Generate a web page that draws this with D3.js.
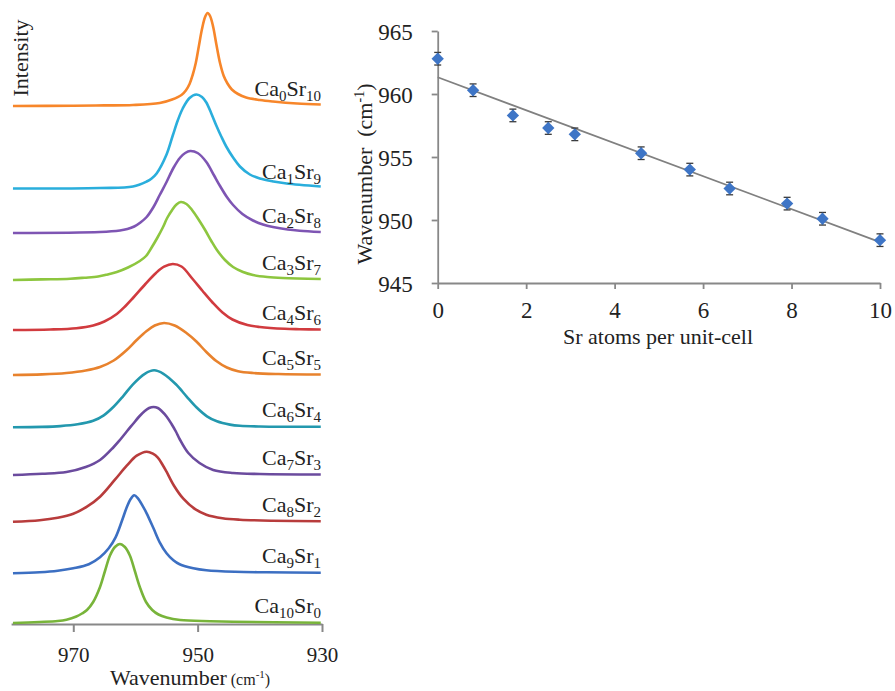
<!DOCTYPE html>
<html>
<head>
<meta charset="utf-8">
<script src="https://cdn.jsdelivr.net/npm/d3@7"></script>
<style>
  html, body { margin: 0; padding: 0; background: #fff; }
  svg { display: block; font-family: "Liberation Serif", "Times New Roman", serif; }
</style>
</head>
<body>
<svg id="chart" width="895" height="691"></svg>
<script>
// ---------------- DATA ----------------
// Left panel: Raman spectra (wavenumber in cm-1, relative intensity, arbitrary units)
const spectrumCa = [0, 1, 2, 3, 4, 5, 6, 7, 8, 9, 10];
const spectrumSr = [10, 9, 8, 7, 6, 5, 4, 3, 2, 1, 0];
const spectrumOffsets = [517, 434.5, 390, 343, 293, 248, 195.7, 148, 101.3, 49.7, 0];

const wn_Ca0Sr10  = [979.7, 970, 965, 960.4, 956.1, 954.1, 952.6, 951.9, 951.3, 950.8, 950.3, 949.8, 949.3, 948.8, 948.4, 948.0, 947.5, 947.0, 946.4, 945.8, 945.2, 944.5, 943.5, 942.2, 940, 937.9, 934, 930.2];
const int_Ca0Sr10 = [0, 0.3, 0.6, 1, 3, 6.5, 11, 15.5, 22, 31, 43, 60, 77, 89, 93, 90, 79, 62, 43, 30, 22.5, 16.5, 12, 8.5, 6, 4.5, 2.5, 1.5];

const wn_Ca1Sr9  = [979.7, 965.7, 960.4, 958.2, 957.4, 956.6, 955.0, 954.0, 953.2, 952.4, 951.3, 950.2, 949.3, 948.6, 947.8, 947.0, 946.2, 945.4, 944.3, 943.2, 941.6, 940.0, 937.8, 935.7, 930.2];
const int_Ca1Sr9 = [0, 0.5, 2, 7, 10, 15, 34, 53, 68, 80, 90.5, 94, 91.5, 86, 75, 63, 52, 42, 31, 22, 14, 10, 7, 5, 2];

const wn_Ca2Sr8  = [979.7, 965.7, 962.5, 961.3, 960.2, 959.2, 958.2, 957.1, 956.1, 955.0, 953.9, 952.8, 952.0, 951.2, 950.0, 948.6, 947.4, 946.4, 945.3, 944.3, 942.8, 941.1, 939.5, 937.9, 935.5, 933.6, 930.2];
const int_Ca2Sr8 = [0, 1, 2.5, 4, 6.5, 10.5, 16, 26, 38, 51, 65, 75.5, 80, 82, 80, 71, 58, 47, 36, 28, 19, 12.5, 8.5, 6, 3.5, 2.3, 1];

const wn_Ca3Sr7  = [979.7, 975.0, 970.5, 968.2, 966.0, 964.5, 963.0, 961.2, 959.3, 958.3, 957.4, 956.5, 955.6, 954.9, 954.1, 953.4, 952.7, 951.8, 950.9, 949.8, 948.8, 947.8, 946.9, 945.6, 944.3, 942.7, 941.1, 938.8, 936.3, 930.2];
const int_Ca3Sr7 = [0, 0.6, 1.3, 2.3, 3.5, 5.5, 8, 12.5, 19, 24, 32.5, 42, 52.5, 62, 70, 75.5, 78, 76, 70, 60, 50, 39, 30, 20, 13, 8, 5, 3, 2, 1];

const wn_Ca4Sr6  = [979.7, 973.7, 969.5, 966.8, 965.0, 963.0, 961.6, 960.4, 958.4, 956.7, 955.4, 954.0, 952.6, 950.8, 949.2, 947.6, 946.0, 944.4, 942.0, 940.0, 936.0, 933.6, 930.2];
const int_Ca4Sr6 = [0, 0.5, 1.8, 4.5, 8.5, 16, 24, 32, 46, 57, 63.3, 66, 63.5, 51, 39, 27.5, 17.5, 10.5, 5, 3, 1.2, 0.8, 0.5];

const wn_Ca5Sr5  = [979.7, 975.0, 971.1, 968.0, 965.7, 963.5, 961.4, 959.8, 958.2, 956.9, 955.4, 953.7, 951.8, 950.2, 948.6, 947.0, 945.3, 943.5, 941.1, 937.0, 930.2];
const int_Ca5Sr5 = [0, 0.6, 2, 4.5, 8, 14.5, 25, 35, 44, 49.5, 52, 49.5, 42, 33.5, 23, 14, 7.5, 3.8, 2, 1, 0.5];

const wn_Ca6Sr4  = [979.7, 975.0, 972.1, 969.3, 966.8, 965.1, 963.6, 962.0, 960.4, 958.5, 957.0, 955.5, 953.5, 951.8, 950.2, 948.5, 946.9, 944.8, 943.2, 940.0, 930.2];
const int_Ca6Sr4 = [0, 0.4, 1.2, 3, 6.5, 12, 20, 31, 43, 53.5, 57, 53.5, 43, 31, 20, 11, 6, 2.7, 1.5, 0.8, 0.5];

const wn_Ca7Sr3  = [979.7, 975.0, 971.1, 968.0, 965.7, 963.5, 962.5, 961.4, 960.4, 959.4, 958.5, 957.8, 957.1, 956.4, 955.8, 955.0, 954.2, 953.5, 952.9, 951.5, 949.7, 947.5, 944.3, 940.0, 930.2];
const int_Ca7Sr3 = [0, 1.2, 3, 8, 15, 28, 35, 43.5, 51, 58.5, 64, 67, 68, 67, 64, 58.5, 51, 43.5, 36, 22, 12, 5, 2, 1, 0.5];

const wn_Ca8Sr2  = [979.7, 975.4, 972.5, 970.0, 967.8, 965.7, 963.3, 961.4, 959.8, 958.2, 957.2, 956.4, 955.6, 955.0, 953.8, 952.3, 950.4, 948.6, 946.0, 943.2, 938.0, 930.2];
const int_Ca8Sr2 = [0, 1.5, 4, 8, 15, 25, 42, 56, 66, 70, 68, 64, 56.5, 50, 36, 23, 12.5, 7, 3.5, 2, 1, 0.5];

const wn_Ca9Sr1  = [979.7, 975.4, 972.5, 970.0, 967.5, 965.7, 964.3, 963.2, 962.2, 961.4, 960.8, 960.2, 959.6, 958.8, 958.2, 957.1, 956.1, 955.0, 953.9, 952.9, 950.7, 948.6, 944.0, 938.9, 930.2];
const int_Ca9Sr1 = [0, 1, 2.5, 5, 9, 16, 25, 36, 52, 66, 74, 78, 75, 67, 60, 45, 31, 20, 13, 9, 5, 3, 1.5, 1, 0.5];

const wn_Ca10Sr0  = [979.7, 975.4, 972.5, 971.1, 969.5, 968.6, 967.8, 966.8, 965.7, 964.9, 964.1, 963.3, 962.5, 961.7, 960.9, 960.1, 959.3, 958.3, 957.3, 956.3, 955.0, 952.8, 948.0, 944.3, 930.2];
const int_Ca10Sr0 = [0, 1, 2, 3.3, 6.5, 9.5, 13, 21, 36, 52, 67.5, 76, 79, 76, 67.5, 52, 36, 21, 13, 8.5, 5.5, 3, 1.8, 1.2, 0.3];

const spectraWn  = [wn_Ca0Sr10, wn_Ca1Sr9, wn_Ca2Sr8, wn_Ca3Sr7, wn_Ca4Sr6, wn_Ca5Sr5, wn_Ca6Sr4, wn_Ca7Sr3, wn_Ca8Sr2, wn_Ca9Sr1, wn_Ca10Sr0];
const spectraInt = [int_Ca0Sr10, int_Ca1Sr9, int_Ca2Sr8, int_Ca3Sr7, int_Ca4Sr6, int_Ca5Sr5, int_Ca6Sr4, int_Ca7Sr3, int_Ca8Sr2, int_Ca9Sr1, int_Ca10Sr0];
const spectrumColors = ["#F7862A", "#2AAEDC", "#7E55B3", "#8DC63F", "#D13B3F", "#E8822D", "#2398AE", "#6B4B9E", "#B83C3C", "#3C6FC2", "#78B43A"];

const leftTicks = [970, 950, 930];

// Right panel: peak position vs Sr content
const srAtoms    = [0, 0.8, 1.7, 2.5, 3.1, 4.6, 5.7, 6.6, 7.9, 8.7, 10];
const peakWn     = [962.8, 960.3, 958.3, 957.3, 956.8, 955.3, 954.0, 952.5, 951.3, 950.1, 948.4];
const peakErr    = [0.5, 0.5, 0.5, 0.5, 0.5, 0.5, 0.5, 0.5, 0.5, 0.5, 0.5];
const rightXTicks = [0, 2, 4, 6, 8, 10];
const rightYTicks = [945, 950, 955, 960, 965];

// ---------------- DRAW ----------------
const svg = d3.select("#chart");
svg.append("rect").attr("width", 895).attr("height", 691).attr("fill", "#fff");

const axisColor = "#888888";

// ----- Left panel -----
const xL = d3.scaleLinear().domain([980, 930]).range([11.1, 322]);
const yL = d3.scaleLinear().domain([0, 615]).range([623, 8]);

const gL = svg.append("g");

const axL = gL.append("g").attr("transform", "translate(0,624)")
  .call(d3.axisBottom(xL).tickValues(leftTicks).tickSize(8).tickSizeOuter(0).tickFormat(d3.format("d")));
axL.select(".domain").attr("stroke", axisColor).attr("stroke-width", 2);
axL.selectAll(".tick line").attr("stroke", axisColor).attr("stroke-width", 2);
axL.selectAll(".tick text").attr("font-family", "Liberation Serif").attr("font-size", 21)
  .attr("fill", "#222").attr("dy", 0).attr("y", 38);

const line = d3.line().curve(d3.curveCatmullRom.alpha(0.5));

spectraWn.forEach((wns, i) => {
  const pts = wns.map((w, j) => [xL(w), yL(spectraInt[i][j] + spectrumOffsets[i])]);
  pts.sort((a, b) => a[0] - b[0]);
  gL.append("path").attr("d", line(pts)).attr("fill", "none")
    .attr("stroke", spectrumColors[i]).attr("stroke-width", 2.6).attr("stroke-linejoin", "round");

  const t = gL.append("text").attr("x", 321).attr("y", yL(spectrumOffsets[i]) - 10)
    .attr("text-anchor", "end").attr("font-size", 22).attr("fill", "#222");
  t.append("tspan").text("Ca");
  t.append("tspan").attr("font-size", 15).attr("dy", 5).text(spectrumCa[i]);
  t.append("tspan").attr("dy", -5).text("Sr");
  t.append("tspan").attr("font-size", 15).attr("dy", 5).text(spectrumSr[i]);
});

gL.append("text").attr("transform", "translate(28,58) rotate(-90)")
  .attr("text-anchor", "middle").attr("font-size", 22).attr("fill", "#222").text("Intensity");

const tb = gL.append("text").attr("x", 110).attr("y", 685).attr("fill", "#222");
tb.append("tspan").attr("font-size", 22).text("Wavenumber");
tb.append("tspan").attr("font-size", 16).text(" (cm");
tb.append("tspan").attr("font-size", 11).attr("dy", -7).text("-1");
tb.append("tspan").attr("font-size", 16).attr("dy", 7).text(")");

// ----- Right panel -----
const xR = d3.scaleLinear().domain([0, 10]).range([437.7, 880]);
const yR = d3.scaleLinear().domain([945, 965]).range([283, 31]);
const gR = svg.append("g");

const axRY = gR.append("g").attr("transform", "translate(437.7,0)")
  .call(d3.axisLeft(yR).tickValues(rightYTicks).tickSize(6).tickSizeOuter(0).tickPadding(19).tickFormat(d3.format("d")));
const axRX = gR.append("g").attr("transform", "translate(0,283)")
  .call(d3.axisBottom(xR).tickValues(rightXTicks).tickSize(6).tickSizeOuter(0).tickFormat(d3.format("d")));
[axRY, axRX].forEach(a => {
  a.select(".domain").attr("stroke", axisColor).attr("stroke-width", 1.8);
  a.selectAll(".tick line").attr("stroke", axisColor).attr("stroke-width", 1.8);
  a.selectAll(".tick text").attr("font-family", "Liberation Serif").attr("font-size", 23).attr("fill", "#222");
});
axRY.selectAll(".tick text").attr("dy", "0.36em");
axRX.selectAll(".tick text").attr("dy", 0).attr("y", 35);

// Trend line (least-squares fit of the data)
const mx = d3.mean(srAtoms), my = d3.mean(peakWn);
const slope = d3.sum(srAtoms, (x, i) => (x - mx) * (peakWn[i] - my)) / d3.sum(srAtoms, x => (x - mx) ** 2);
const icpt = my - slope * mx;
gR.append("line")
  .attr("x1", xR(0)).attr("y1", yR(icpt))
  .attr("x2", xR(10)).attr("y2", yR(icpt + slope * 10))
  .attr("stroke", "#808080").attr("stroke-width", 1.8);

// Error bars
srAtoms.forEach((x, i) => {
  const cx = xR(x), y1 = yR(peakWn[i] - peakErr[i]), y2 = yR(peakWn[i] + peakErr[i]);
  gR.append("line").attr("x1", cx).attr("x2", cx).attr("y1", y1).attr("y2", y2).attr("stroke", "#3a3a3a").attr("stroke-width", 1.3);
  [y1, y2].forEach(yy => gR.append("line").attr("x1", cx - 3.5).attr("x2", cx + 3.5).attr("y1", yy).attr("y2", yy).attr("stroke", "#3a3a3a").attr("stroke-width", 1.3));
});

// Diamond markers
const diamond = d3.symbol().type(d3.symbolSquare).size(76);
gR.selectAll("path.pt").data(srAtoms).join("path").attr("class", "pt")
  .attr("d", diamond)
  .attr("transform", (d, i) => `translate(${xR(d)},${yR(peakWn[i])}) rotate(45)`)
  .attr("fill", "#3E75C6");

// Axis titles
const ty = gR.append("text").attr("transform", "translate(372,174) rotate(-90)")
  .attr("text-anchor", "middle").attr("font-size", 22).attr("fill", "#222");
ty.append("tspan").text("Wavenumber\u00A0 (cm");
ty.append("tspan").attr("font-size", 14).attr("dy", -8).text("-1");
ty.append("tspan").attr("dy", 8).text(")");

gR.append("text").attr("x", 658).attr("y", 344).attr("text-anchor", "middle")
  .attr("font-size", 22).attr("fill", "#222").text("Sr atoms per unit-cell");
</script>
</body>
</html>
